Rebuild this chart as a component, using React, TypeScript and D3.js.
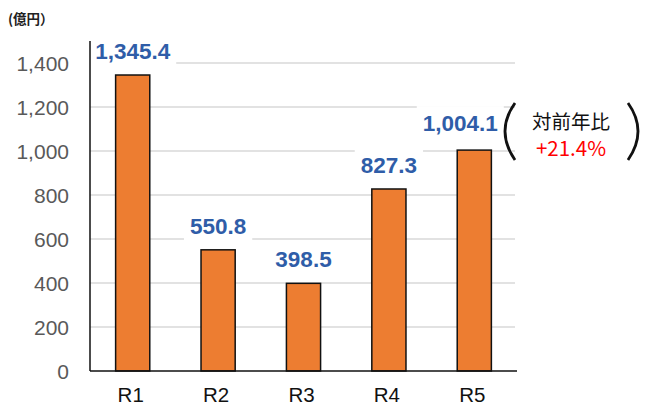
import React from "react";
import * as d3 from "d3";

const categories = ["R1", "R2", "R3", "R4", "R5"];
const values = [1345.4, 550.8, 398.5, 827.3, 1004.1];
const yTicks = [0, 200, 400, 600, 800, 1000, 1200, 1400];
const unitLabel = "(億円）";
const noteTitle = "対前年比";
const noteValue = "+21.4%";

const W = 645;
const H = 405;
const left = 90;
const right = 517;
const top = 41;
const bottom = 371;

// layout: label nudges (px) to keep the last label clear of the note
const labelNudgeX = [0, 0, 0, 0, -14];
const labelNudgeY = [0, 0, 0, 0, -3];

const font = "'Liberation Sans', Arial, sans-serif";

function labelWidth(s: string, size: number) {
  let w = 0;
  for (const c of s) {
    if (c === "," || c === ".") w += 0.278;
    else w += 0.556;
  }
  return w * size;
}

export default function App() {
  const x = d3.scaleBand<string>().domain(categories).range([left, right]).paddingInner(0.6).paddingOuter(0.3);
  const y = d3.scaleLinear().domain([0, 1500]).range([bottom, top]);
  const fmt = d3.format(",.1f");
  const tickFmt = d3.format(",");

  return (
    <svg width={W} height={H} style={{ position: "absolute", left: 0, top: 0, background: "#fff" }}>
      <rect x={0} y={0} width={W} height={H} fill="#fff" />
      <text x={8} y={24} fontFamily="'Noto Sans CJK JP', sans-serif" fontSize={13.5} fontWeight="bold" fill="#222">{unitLabel}</text>
      {yTicks.filter((t) => t > 0).map((t) => (
        <line key={t} x1={left} x2={515} y1={y(t)} y2={y(t)} stroke="#d9d9d9" strokeWidth={1.5} />
      ))}
      {yTicks.map((t) => (
        <text key={t} x={69} y={y(t)} dy="0.36em" textAnchor="end" fontFamily={font} fontSize={21} fill="#595959">
          {tickFmt(t)}
        </text>
      ))}
      {categories.map((c, i) => (
        <rect key={c} x={x(c)} y={y(values[i])} width={x.bandwidth()} height={y(0) - y(values[i])}
          fill="#ED7D31" stroke="#111" strokeWidth={1.5} />
      ))}
      {categories.map((c, i) => {
        const cx = (x(c) as number) + x.bandwidth() / 2 + labelNudgeX[i];
        const cy = y(values[i]) - 24 + labelNudgeY[i];
        const s = fmt(values[i]);
        const tw = labelWidth(s, 22.5);
        return (
          <g key={c}>
            <rect x={cx - tw / 2 - 6} y={cy - 17} width={tw + 12} height={34} fill="#fff" />
            <text x={cx} y={cy} dy="0.36em" textAnchor="middle" fontFamily={font} fontSize={22.5} fontWeight="bold" fill="#2F5DA8">
              {s}
            </text>
          </g>
        );
      })}
      <line x1={left} x2={left} y1={top} y2={bottom} stroke="#111" strokeWidth={1.5} />
      <line x1={left} x2={right} y1={bottom} y2={bottom} stroke="#111" strokeWidth={1.5} />
      {categories.map((c) => (
        <text key={c} x={(x(c) as number) + x.bandwidth() / 2 - 2} y={402} textAnchor="middle" fontFamily={font} fontSize={20.5} fill="#111">
          {c}
        </text>
      ))}
      <path d="M515,103 Q495,131 515,160" fill="none" stroke="#111" strokeWidth={2.8} />
      <path d="M628,103 Q648,131 628,160" fill="none" stroke="#111" strokeWidth={2.8} />
      <text x={571} y={122} dy="0.36em" textAnchor="middle" fontFamily="'Noto Sans CJK JP', sans-serif" fontSize={19.5} fill="#111">
        {noteTitle}
      </text>
      <text x={571} y={149} dy="0.36em" textAnchor="middle" fontFamily="'Noto Sans CJK JP', sans-serif" fontSize={20.5} fill="#ff0000">
        {noteValue}
      </text>
    </svg>
  );
}
